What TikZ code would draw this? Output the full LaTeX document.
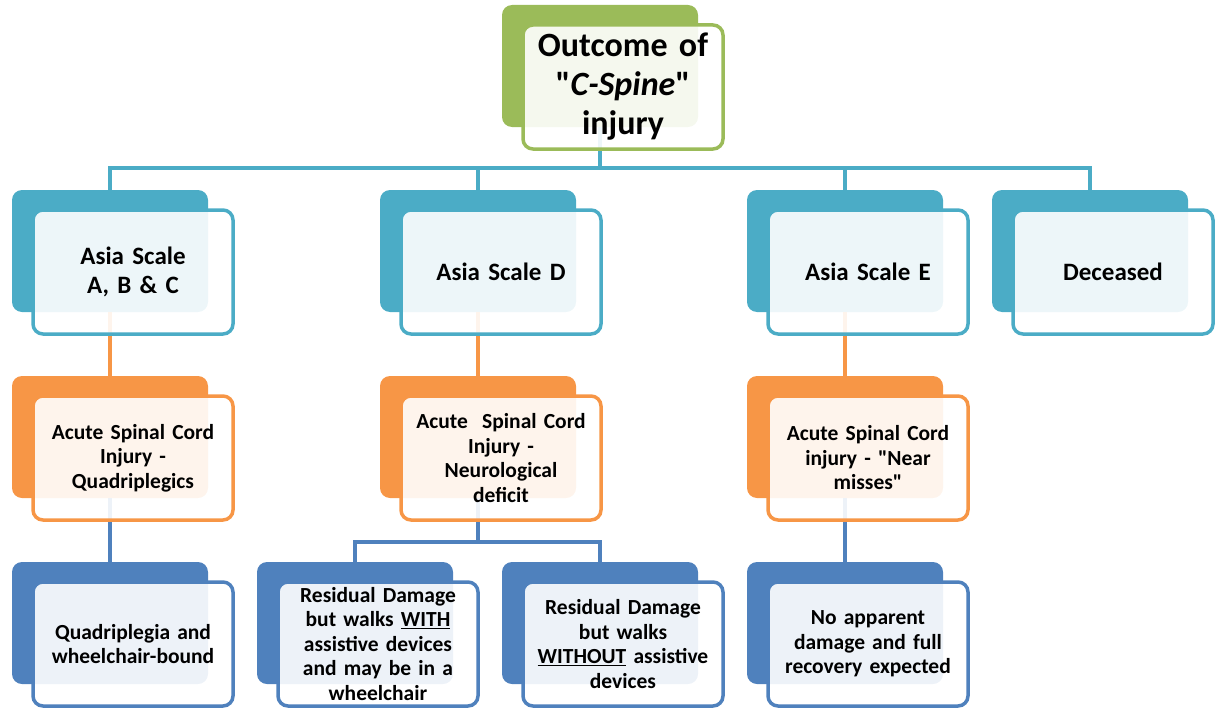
\documentclass[tikz,border=0pt]{standalone}
\usepackage{fontspec}
\setmainfont{Carlito}[Ligatures=TeXOff]
\usepackage{tikz}

\definecolor{rootgreen}{HTML}{9BBB59}
\definecolor{scaleteal}{HTML}{4BACC6}
\definecolor{cordorange}{HTML}{F79646}
\definecolor{outblue}{HTML}{4F81BD}

\begin{document}
\begin{tikzpicture}[x=1pt, y=-1pt,
  every node/.style={font=\bfseries, align=center, outer sep=0pt},
  back/.style={fill=#1, rounded corners=10pt, minimum width=196pt, minimum height=122pt},
  front/.style={draw=#1, line width=3.5pt, fill=white, fill opacity=0.9, text opacity=1,
    rounded corners=10pt, minimum width=200pt, minimum height=124pt, text width=192pt,
    font=\fontsize{21.5}{24.5}\selectfont\bfseries},
  big/.style={font=\fontsize{25}{29}\selectfont\bfseries},
  link/.style={draw=#1, line width=4pt}]
\useasboundingbox (0,0) rectangle (1215,709);

% back boxes
\node[back=rootgreen] (rootB) at (600,66) {};
\node[back=scaleteal] (abcB) at (110,251) {};
\node[back=scaleteal] (dB) at (478,251) {};
\node[back=scaleteal] (eB) at (845,251) {};
\node[back=scaleteal] (deadB) at (1090,251) {};
\node[back=cordorange] (quadB) at (110,437) {};
\node[back=cordorange] (neuroB) at (478,437) {};
\node[back=cordorange] (nearB) at (845,437) {};
\node[back=outblue] (chairB) at (110,623) {};
\node[back=outblue] (withB) at (355,623) {};
\node[back=outblue] (withoutB) at (600,623) {};
\node[back=outblue] (fullB) at (845,623) {};

% connectors
\coordinate (hub) at (600,168);
\coordinate (split) at (478,542);
\draw[link=scaleteal] (rootB.south) -- (hub);
\draw[link=scaleteal] (hub) -| (abcB.north);
\draw[link=scaleteal] (hub) -| (dB.north);
\draw[link=scaleteal] (hub) -| (eB.north);
\draw[link=scaleteal] (hub) -| (deadB.north);
\draw[link=cordorange] (abcB.south) -- (quadB.north);
\draw[link=cordorange] (dB.south) -- (neuroB.north);
\draw[link=cordorange] (eB.south) -- (nearB.north);
\draw[link=outblue] (quadB.south) -- (chairB.north);
\draw[link=outblue] (neuroB.south) -- (split);
\draw[link=outblue] (split) -| (withB.north);
\draw[link=outblue] (split) -| (withoutB.north);
\draw[link=outblue] (nearB.south) -- (fullB.north);

% front boxes
\node[front=rootgreen, font=\fontsize{34}{39}\selectfont\bfseries] (root) at (623,87)
  {Outcome of\\"\textit{C-Spine}"\\injury};
\node[front=scaleteal, big] (abc) at (133,272) {Asia Scale\\A, B \& C};
\node[front=scaleteal, big] (d) at (501,272) {Asia Scale D};
\node[front=scaleteal, big] (e) at (868,272) {Asia Scale E};
\node[front=scaleteal, big] (dead) at (1113,272) {Deceased};
\node[front=cordorange] (quad) at (133,458) {Acute Spinal Cord\\Injury -\\Quadriplegics};
\node[front=cordorange] (neuro) at (501,458) {Acute\ \ Spinal Cord\\Injury -\\Neurological\\deficit};
\node[front=cordorange] (near) at (868,458) {Acute Spinal Cord\\injury - "Near\\misses"};
\node[front=outblue] (chair) at (133,644) {Quadriplegia and\\wheelchair-bound};
\node[front=outblue] (with) at (378,644)
  {Residual Damage\\but walks \underline{WITH}\\assistive devices\\and may be in a\\wheelchair};
\node[front=outblue] (without) at (623,644)
  {Residual Damage\\but walks\\\underline{WITHOUT} assistive\\devices};
\node[front=outblue] (full) at (868,644) {No apparent\\damage and full\\recovery expected};
\end{tikzpicture}
\end{document}
